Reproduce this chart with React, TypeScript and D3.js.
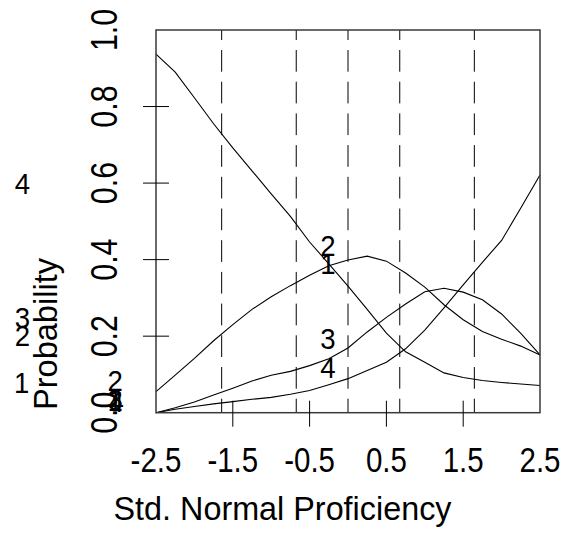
import * as d3 from "d3";
import { useEffect, useRef } from "react";

// proficiency grid and category probabilities
const theta = [-2.5, -2.25, -2, -1.75, -1.5, -1.25, -1, -0.75, -0.5, -0.25, 0, 0.25, 0.5, 0.75, 1, 1.25, 1.5, 1.75, 2, 2.25, 2.5];
const prob1 = [0.937, 0.89, 0.823, 0.755, 0.692, 0.632, 0.572, 0.513, 0.446, 0.389, 0.331, 0.27, 0.208, 0.159, 0.132, 0.104, 0.092, 0.084, 0.079, 0.075, 0.071];
const prob2 = [0.055, 0.098, 0.142, 0.188, 0.23, 0.27, 0.303, 0.332, 0.359, 0.384, 0.399, 0.409, 0.396, 0.365, 0.328, 0.282, 0.243, 0.212, 0.192, 0.174, 0.151];
const prob3 = [0, 0.013, 0.028, 0.046, 0.064, 0.083, 0.098, 0.108, 0.123, 0.141, 0.169, 0.211, 0.249, 0.284, 0.316, 0.325, 0.315, 0.295, 0.258, 0.207, 0.151];
const prob4 = [0, 0.009, 0.016, 0.023, 0.029, 0.035, 0.04, 0.048, 0.058, 0.073, 0.089, 0.11, 0.132, 0.167, 0.216, 0.274, 0.334, 0.393, 0.45, 0.535, 0.621];

const xTickLabels = [-2.5, -1.5, -0.5, 0.5, 1.5, 2.5];
const xTickMarks = [-1.5, -0.5, 0.5, 1.5];
const yTickLabels = [0, 0.2, 0.4, 0.6, 0.8, 1.0];
const yTickMarks = [0.2, 0.4, 0.6, 0.8];
const cutPoints = [-1.645, -0.674, 0, 0.674, 1.645];

// category number labels (data coordinates)
const labelText = ["4", "3", "2", "1", "2", "4", "3", "1", "2", "1", "3", "4"];
const labelX = [-4.24, -4.24, -4.24, -4.25, -3.03, -3.02, -3.03, -3.03, -0.26, -0.26, -0.26, -0.26];
const labelY = [0.6, 0.25, 0.203, 0.08, 0.085, 0.028, 0.035, 0.032, 0.438, 0.389, 0.193, 0.119];

const FONT = "'Liberation Sans', Arial, Helvetica, sans-serif";
const NARROW = 0.82; // squeeze to look like Helvetica Narrow

export default function App() {
    const svgRef = useRef<SVGSVGElement | null>(null);

    useEffect(() => {
        if (!svgRef.current) return;
        const svg = d3.select(svgRef.current);
        svg.selectAll("*").remove();

        const left = 156, right = 540, top = 30, bottom = 412.7;

        const x = d3.scaleLinear().domain([-2.5, 2.5]).range([left, right]);
        const y = d3.scaleLinear().domain([0, 1]).range([bottom, top]);

        svg.append("rect")
            .attr("width", 566)
            .attr("height", 535)
            .attr("fill", "#ffffff");

        // dashed cut lines
        svg.selectAll(".cut")
            .data(cutPoints)
            .enter()
            .append("line")
            .attr("x1", d => x(d))
            .attr("x2", d => x(d))
            .attr("y1", top)
            .attr("y2", bottom)
            .attr("stroke", "#000")
            .attr("stroke-width", 1)
            .attr("stroke-dasharray", "21.7,10")
            .attr("stroke-dashoffset", 11.7);

        // curves
        const line = d3.line<number>()
            .x((d, i) => x(theta[i]))
            .y(d => y(d));

        [prob1, prob2, prob3, prob4].forEach(series => {
            svg.append("path")
                .attr("d", line(series) || "")
                .attr("fill", "none")
                .attr("stroke", "#000")
                .attr("stroke-width", 1.1);
        });

        // box
        svg.append("rect")
            .attr("x", left)
            .attr("y", top)
            .attr("width", right - left)
            .attr("height", bottom - top)
            .attr("fill", "none")
            .attr("stroke", "#3a3a3a")
            .attr("stroke-width", 1.5);

        // ticks crossing the frame
        svg.selectAll(".xtick")
            .data(xTickMarks)
            .enter()
            .append("line")
            .attr("x1", d => x(d))
            .attr("x2", d => x(d))
            .attr("y1", bottom - 12)
            .attr("y2", bottom + 14)
            .attr("stroke", "#000")
            .attr("stroke-width", 1);

        svg.selectAll(".ytick")
            .data(yTickMarks)
            .enter()
            .append("line")
            .attr("x1", left - 13)
            .attr("x2", left + 13)
            .attr("y1", d => y(d))
            .attr("y2", d => y(d))
            .attr("stroke", "#000")
            .attr("stroke-width", 1);

        // tick labels
        svg.selectAll(".xlab")
            .data(xTickLabels)
            .enter()
            .append("text")
            .attr("transform", d => `translate(${x(d)},471.7) scale(${NARROW},1)`)
            .attr("text-anchor", "middle")
            .style("font-family", FONT)
            .style("font-size", "36px")
            .text(d => d.toFixed(1));

        svg.selectAll(".ylab")
            .data(yTickLabels)
            .enter()
            .append("text")
            .attr("transform", d => `translate(116.7,${y(d)}) rotate(-90) scale(${NARROW},1)`)
            .attr("text-anchor", "middle")
            .style("font-family", FONT)
            .style("font-size", "37px")
            .text(d => d.toFixed(1));

        // axis titles
        svg.append("text")
            .attr("x", 282.5)
            .attr("y", 520)
            .attr("text-anchor", "middle")
            .attr("textLength", 338)
            .attr("lengthAdjust", "spacingAndGlyphs")
            .style("font-family", FONT)
            .style("font-size", "34px")
            .text("Std. Normal Proficiency");

        svg.append("text")
            .attr("transform", "translate(56.7,334) rotate(-90)")
            .attr("text-anchor", "middle")
            .attr("textLength", 152)
            .attr("lengthAdjust", "spacingAndGlyphs")
            .style("font-family", FONT)
            .style("font-size", "34px")
            .text("Probability");

        // category labels
        svg.selectAll(".cat")
            .data(labelText)
            .enter()
            .append("text")
            .attr("transform", (d, i) => `translate(${x(labelX[i])},${y(labelY[i]) + 10.5}) scale(0.92,1)`)
            .attr("text-anchor", "middle")
            .style("font-family", FONT)
            .style("font-size", "30px")
            .text(d => d);
    }, []);

    return (
        <svg
            ref={svgRef}
            width={566}
            height={535}
            style={{ position: "absolute", left: 0, top: 0, display: "block" }}
        ></svg>
    );
}
